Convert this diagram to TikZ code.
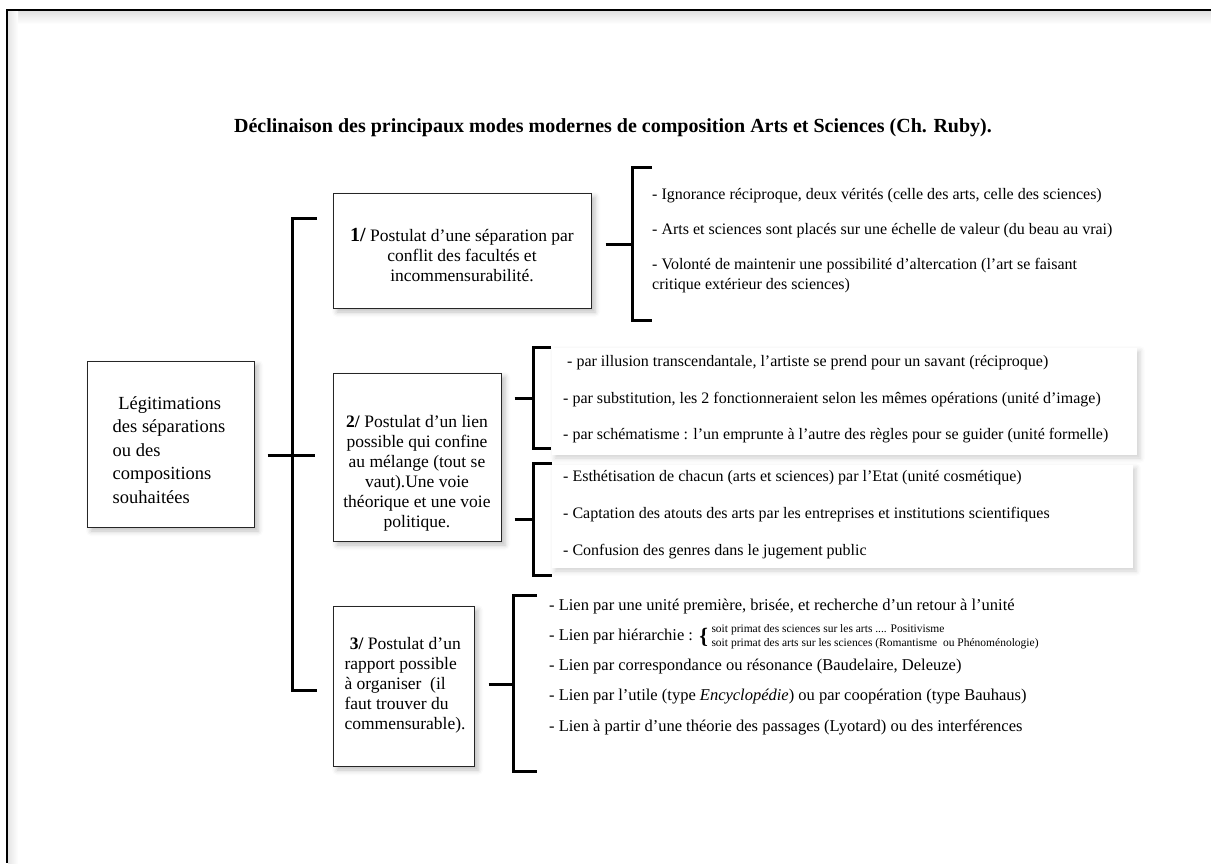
\documentclass[tikz,border=0pt]{standalone}
\usepackage{fontspec}
\setmainfont{Liberation Serif}
\usetikzlibrary{positioning,calc,shadows.blur}

\tikzset{
	boite/.style={draw=black!85, line width=1pt, fill=white, inner sep=0pt,
		blur shadow={shadow xshift=4pt, shadow yshift=-4pt, shadow blur radius=5pt, shadow opacity=25}},
	fond/.style={fill=white, inner sep=0pt,
		blur shadow={shadow xshift=3pt, shadow yshift=-3pt, shadow blur radius=5pt, shadow opacity=18}},
	crochet/.style={line width=3pt},
	item/.style={anchor=west, inner sep=0pt, font=\fontsize{16}{20}\selectfont},
	texte/.style={inner sep=0pt, font=\fontsize{17.5}{20}\selectfont}
}

\begin{document}
\begin{tikzpicture}[x=1pt,y=-1pt]
	\useasboundingbox (0,0) rectangle (1211,863);

	% cadre
	\fill[top color=black!12, bottom color=white] (8,11) rectangle (1211,24);
	\fill[left color=black!10, right color=white] (8,11) rectangle (18,863);
	\draw[line width=2pt] (1211,10) -- (7,10) -- (7,863);

	% titre
	\node[inner sep=0pt, font=\bfseries\fontsize{20}{22}\selectfont] (titre) at (613,128)
		{Déclinaison des principaux modes modernes de composition Arts et Sciences (Ch. Ruby).};

	%---------------------
	% boites
	%---------------------
	\node[boite, minimum width=167, minimum height=166] (legit) at (170.5,444) {};
	\node[texte, align=left, font=\fontsize{18.5}{23.5}\selectfont] (tlegit) at (169,450)
		{\hspace{0.3em}Légitimations\\des séparations\\ou des\\compositions\\souhaitées};

	\node[boite, minimum width=258, minimum height=115] (b1) at (462,250.5) {};
	\node[texte, align=center] (t1) at (462,255)
		{{\bfseries\fontsize{20}{20}\selectfont 1/} Postulat d’une séparation par\\conflit des facultés et\\incommensurabilité.};

	\node[boite, minimum width=168, minimum height=168] (b2) at (417,457) {};
	\node[texte, align=center] (t2) at (417,473)
		{\textbf{2/} Postulat d’un lien\\possible qui confine\\au mélange (tout se\\vaut).Une voie\\théorique et une voie\\politique.};

	\node[boite, minimum width=141, minimum height=160] (b3) at (403.5,686) {};
	\node[texte, align=left] (t3) at (405,685)
		{\hspace{0.3em}\textbf{3/} Postulat d’un\\rapport possible\\à organiser~ (il\\faut trouver du\\commensurable).};

	%---------------------
	% grand crochet
	%---------------------
	\coordinate (g) at (292,455);
	\draw[crochet] ($(g)+(25,-237)$) -- ($(g)+(0,-237)$) -- ($(g)+(0,235)$) -- ($(g)+(25,235)$);
	\draw[crochet] ($(legit.east)+(13,11)$) -- ($(g)+(23,0)$);

	%---------------------
	% 1/
	%---------------------
	\coordinate (c1) at (632,244);
	\draw[crochet] ($(c1)+(20,-77)$) -- ($(c1)+(0,-77)$) -- ($(c1)+(0,76)$) -- ($(c1)+(20,76)$);
	\draw[crochet] ($(b1.east)+(14,-6.5)$) -- (c1);

	\node[item] (i11) at (652,196) {- Ignorance réciproque, deux vérités (celle des arts, celle des sciences)};
	\node[item] (i12) at (652,231) {- Arts et sciences sont placés sur une échelle de valeur (du beau au vrai)};
	\node[item, align=left] (i13) at (652,276) {- Volonté de maintenir une possibilité d’altercation (l’art se faisant\\critique extérieur des sciences)};

	%---------------------
	% 2/
	%---------------------
	\node[fond, minimum width=585, minimum height=107] (f2a) at (844.5,401.5) {};
	\node[fond, minimum width=581, minimum height=103] (f2b) at (842.5,516.5) {};

	\coordinate (c2a) at (533,398);
	\draw[crochet] ($(c2a)+(18,-51)$) -- ($(c2a)+(0,-51)$) -- ($(c2a)+(0,50)$) -- ($(c2a)+(18,50)$);
	\draw[crochet] ($(b2.east)+(13,-59)$) -- (c2a);

	\coordinate (c2b) at (533,519);
	\draw[crochet] ($(c2b)+(19,-56)$) -- ($(c2b)+(0,-56)$) -- ($(c2b)+(0,56)$) -- ($(c2b)+(19,56)$);
	\draw[crochet] ($(b2.east)+(13,62)$) -- (c2b);

	\node[item] (i21) at (567,363) {- par illusion transcendantale, l’artiste se prend pour un savant (réciproque)};
	\node[item] (i22) at (563,400) {- par substitution, les 2 fonctionneraient selon les mêmes opérations (unité d’image)};
	\node[item] (i23) at (563,436) {- par schématisme : l’un emprunte à l’autre des règles pour se guider (unité formelle)};
	\node[item] (i24) at (563,478) {- Esthétisation de chacun (arts et sciences) par l’Etat (unité cosmétique)};
	\node[item] (i25) at (563,515) {- Captation des atouts des arts par les entreprises et institutions scientifiques};
	\node[item] (i26) at (563,552) {- Confusion des genres dans le jugement public};

	%---------------------
	% 3/
	%---------------------
	\coordinate (c3) at (513,684);
	\draw[crochet] ($(c3)+(24,-89)$) -- ($(c3)+(0,-89)$) -- ($(c3)+(0,87)$) -- ($(c3)+(24,87)$);
	\draw[crochet] ($(b3.east)+(14,-2)$) -- (c3);

	\node[item, font=\fontsize{16.5}{20}\selectfont] (i31) at (549,607) {- Lien par une unité première, brisée, et recherche d’un retour à l’unité};
	\node[item, font=\fontsize{16.5}{20}\selectfont] (i32) at (549,637) {- Lien par hiérarchie :};
	\node[inner sep=0pt, right=6pt of i32, font=\bfseries\fontsize{22}{22}\selectfont] (acc) {\{};
	\node[inner sep=0pt, right=3pt of acc, align=left, font=\fontsize{11.5}{14}\selectfont] (soit)
		{soit primat des sciences sur les arts .... Positivisme\\soit primat des arts sur les sciences (Romantisme~ ou Phénoménologie)};
	\node[item, font=\fontsize{16.5}{20}\selectfont] (i33) at (549,667) {- Lien par correspondance ou résonance (Baudelaire, Deleuze)};
	\node[item, font=\fontsize{16.5}{20}\selectfont] (i34) at (549,697) {- Lien par l’utile (type \textit{Encyclopédie}) ou par coopération (type Bauhaus)};
	\node[item, font=\fontsize{16.5}{20}\selectfont] (i35) at (549,727) {- Lien à partir d’une théorie des passages (Lyotard) ou des interférences};

\end{tikzpicture}
\end{document}
